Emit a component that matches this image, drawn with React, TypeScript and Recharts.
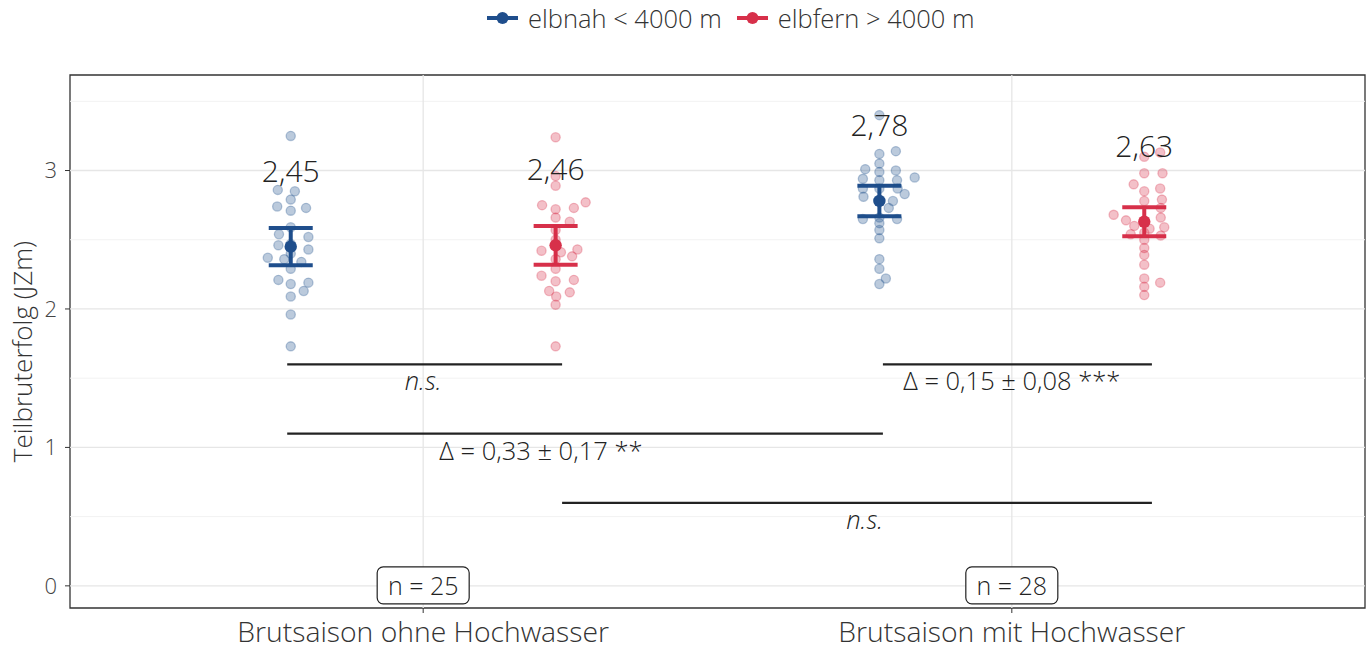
import {
  ComposedChart,
  Scatter,
  XAxis,
  YAxis,
  ReferenceLine,
  ReferenceArea,
  ReferenceDot,
  ErrorBar,
} from "recharts";

const seasons = ["Brutsaison ohne Hochwasser", "Brutsaison mit Hochwasser"];
const groups = ["elbnah < 4000 m", "elbfern > 4000 m"];
const sampleSizes = [25, 28];

// per-site values as [jitter, Teilbruterfolg]
const nahOhne = [
  [0, 3.25], [-0.022, 2.86], [0.007, 2.85], [0, 2.79], [-0.023, 2.74],
  [0, 2.71], [0.026, 2.73], [0, 2.59], [-0.02, 2.54], [0.03, 2.52],
  [-0.021, 2.46], [0.03, 2.43], [-0.039, 2.37], [-0.011, 2.36], [0.018, 2.34],
  [0, 2.29], [-0.021, 2.21], [0, 2.18], [0.03, 2.19], [0.022, 2.13],
  [0, 2.09], [0, 1.96], [0, 1.73], [0, 2.47], [0, 2.4],
];
const fernOhne = [
  [0, 3.24], [0, 2.96], [0, 2.89], [-0.023, 2.75], [0, 2.72],
  [0.031, 2.73], [0.051, 2.77], [0, 2.66], [0.024, 2.63], [0, 2.57],
  [-0.024, 2.42], [0.009, 2.41], [0.037, 2.43], [0.028, 2.38], [0, 2.36],
  [0, 2.29], [-0.024, 2.24], [0, 2.2], [0.031, 2.21], [-0.011, 2.13],
  [0.024, 2.12], [0.001, 2.09], [0, 2.03], [0, 1.73], [0, 2.5],
];
const nahMit = [
  [0, 3.4], [0, 3.12], [0.028, 3.14], [0, 3.05], [-0.024, 3.01],
  [0, 2.99], [0.028, 3.0], [-0.028, 2.94], [0, 2.93], [0.03, 2.93],
  [0.06, 2.95], [-0.028, 2.87], [0, 2.87], [0.031, 2.87], [-0.027, 2.81],
  [0.043, 2.83], [0.023, 2.78], [0.016, 2.73], [-0.028, 2.65], [0, 2.66],
  [0.03, 2.65], [0, 2.62], [0, 2.57], [0, 2.51], [0, 2.36],
  [0, 2.29], [0.011, 2.22], [0, 2.18],
];
const fernMit = [
  [0, 3.1], [0.027, 3.13], [0, 2.98], [0.031, 2.98], [-0.018, 2.9],
  [0.027, 2.87], [0, 2.85], [0, 2.78], [0.03, 2.79], [0.028, 2.73],
  [-0.052, 2.68], [-0.031, 2.64], [0.028, 2.66], [-0.017, 2.6], [0.034, 2.59],
  [-0.023, 2.54], [0, 2.55], [0.028, 2.53], [0, 2.5], [0, 2.44],
  [0, 2.39], [0, 2.32], [0, 2.22], [0.027, 2.19], [0, 2.16],
  [0, 2.1], [0, 2.63], [0.009, 2.58],
];

// group means and standard errors: [ohne, mit]
const nahMeans = [2.45, 2.78];
const nahSe = [0.135, 0.11];
const fernMeans = [2.46, 2.63];
const fernSe = [0.14, 0.105];

// pairwise comparisons (bracket from/to on the x scale, bracket height)
const comparisons = [
  { from: 0.769, to: 1.236, y: 1.6, text: "n.s." },
  { from: 1.781, to: 2.238, y: 1.6, text: "Δ = 0,15 ± 0,08 ***" },
  { from: 0.769, to: 1.781, y: 1.1, text: "Δ = 0,33 ± 0,17 **" },
  { from: 1.236, to: 2.238, y: 0.6, text: "n.s." },
];
const bracketLabelX = [1, 2, 1.2, 1.75];

const BLUE = "#1f4e8c";
const RED = "#d7304a";
const FONT = "'Open Sans', sans-serif";
const WEIGHT = 300;
const DODGE = 0.225;

const toPoints = (rows: number[][], season: number, side: number) =>
  rows.map(([j, v]) => ({ x: season + 1 + side * DODGE + j, y: v }));

const toMeans = (means: number[], se: number[], side: number) =>
  means.map((m, i) => ({ x: i + 1 + side * DODGE, y: m, se: se[i] }));

const pointShape = (color: string) => (p: any) => (
  <circle
    cx={p.cx}
    cy={p.cy}
    r={4.6}
    fill={color}
    fillOpacity={0.3}
    stroke={color}
    strokeOpacity={0.3}
    strokeWidth={1.3}
  />
);

const meanShape = (color: string) => (p: any) => (
  <g>
    <circle cx={p.cx} cy={p.cy} r={6.2} fill={color} />
    <text
      x={p.cx}
      y={p.cy - 65}
      textAnchor="middle"
      fontSize={30}
      fontWeight={WEIGHT}
      fill="#222"
      fontFamily={FONT}
    >
      {p.payload.y.toFixed(2).replace(".", ",")}
    </text>
  </g>
);

function LegendBar() {
  const item = (color: string, label: string) => (
    <div style={{ display: "flex", alignItems: "center", marginRight: 15 }}>
      <svg width={32} height={14} style={{ marginRight: 9 }}>
        <line x1={0} y1={7} x2={31} y2={7} stroke={color} strokeWidth={4} />
        <circle cx={15.5} cy={7} r={6} fill={color} />
      </svg>
      <span>{label}</span>
    </div>
  );
  return (
    <div
      style={{
        position: "absolute",
        left: 487,
        top: 1,
        display: "flex",
        fontFamily: FONT,
        fontWeight: WEIGHT,
        fontSize: 25.5,
        color: "#333",
        whiteSpace: "nowrap",
      }}
    >
      {item(BLUE, groups[0])}
      {item(RED, groups[1])}
    </div>
  );
}

export default function App() {
  const majorY = [0, 1, 2, 3];
  const minorY = [0.5, 1.5, 2.5, 3.5];

  return (
    <div
      style={{
        position: "absolute",
        left: 0,
        top: 0,
        width: 1370,
        height: 650,
        background: "#fff",
        fontFamily: FONT,
      }}
    >
      <LegendBar />
      <ComposedChart
        width={1370}
        height={650}
        margin={{ top: 75, right: 5, bottom: 0, left: 0 }}
      >
        <XAxis
          type="number"
          dataKey="x"
          domain={[0.4, 2.6]}
          ticks={[1, 2]}
          allowDataOverflow
          height={42}
          axisLine={false}
          tickSize={5}
          tickMargin={9}
          tickLine={{ stroke: "#333" }}
          tick={{ fontSize: 28.3, fill: "#333", fontFamily: FONT, fontWeight: WEIGHT }}
          tickFormatter={(v: number) => seasons[v - 1]}
        />
        <YAxis
          type="number"
          dataKey="y"
          domain={[-0.16, 3.69]}
          ticks={majorY}
          allowDataOverflow
          width={70}
          axisLine={false}
          tickSize={5}
          tickMargin={8}
          tickLine={{ stroke: "#333" }}
          tick={{ fontSize: 22, fill: "#444", fontFamily: FONT, fontWeight: WEIGHT }}
          label={(props: any) => {
            const vb = props.viewBox;
            const cy = vb.y + vb.height / 2 + 10;
            return (
              <text
                transform={`translate(32, ${cy}) rotate(-90)`}
                textAnchor="middle"
                fontSize={26}
                fontWeight={WEIGHT}
                fill="#333"
                fontFamily={FONT}
              >
                Teilbruterfolg (JZm)
              </text>
            );
          }}
        />

        {minorY.map((v) => (
          <ReferenceLine key={`mn${v}`} y={v} stroke="#f2f2f2" strokeWidth={1} />
        ))}
        {majorY.map((v) => (
          <ReferenceLine key={`mj${v}`} y={v} stroke="#e6e6e6" strokeWidth={1.3} />
        ))}
        {[1, 2].map((v) => (
          <ReferenceLine key={`vx${v}`} x={v} stroke="#e6e6e6" strokeWidth={1.3} />
        ))}

        <Scatter data={toPoints(nahOhne, 0, -1)} dataKey="y" shape={pointShape(BLUE)} isAnimationActive={false} />
        <Scatter data={toPoints(nahMit, 1, -1)} dataKey="y" shape={pointShape(BLUE)} isAnimationActive={false} />
        <Scatter data={toPoints(fernOhne, 0, 1)} dataKey="y" shape={pointShape(RED)} isAnimationActive={false} />
        <Scatter data={toPoints(fernMit, 1, 1)} dataKey="y" shape={pointShape(RED)} isAnimationActive={false} />

        <Scatter
          data={toMeans(nahMeans, nahSe, -1)}
          dataKey="y"
          shape={meanShape(BLUE)}
          isAnimationActive={false}
        >
          <ErrorBar dataKey="se" direction="y" width={22} stroke={BLUE} strokeWidth={4} isAnimationActive={false} />
        </Scatter>
        <Scatter
          data={toMeans(fernMeans, fernSe, 1)}
          dataKey="y"
          shape={meanShape(RED)}
          isAnimationActive={false}
        >
          <ErrorBar dataKey="se" direction="y" width={22} stroke={RED} strokeWidth={4} isAnimationActive={false} />
        </Scatter>

        {comparisons.map((c, i) => (
          <ReferenceLine
            key={`br${i}`}
            segment={[
              { x: c.from, y: c.y },
              { x: c.to, y: c.y },
            ]}
            stroke="#222"
            strokeWidth={2.2}
          />
        ))}
        {comparisons.map((c, i) => (
          <ReferenceDot
            key={`bt${i}`}
            x={bracketLabelX[i]}
            y={c.y}
            r={0}
            shape={(p: any) => (
              <text
                x={p.cx}
                y={p.cy + 26}
                textAnchor="middle"
                fontSize={25.5}
                fontWeight={WEIGHT}
                fill="#222"
                fontFamily={FONT}
                fontStyle={c.text === "n.s." ? "italic" : "normal"}
              >
                {c.text}
              </text>
            )}
          />
        ))}

        {sampleSizes.map((n, i) => (
          <ReferenceDot
            key={`n${i}`}
            x={i + 1}
            y={0}
            r={0}
            shape={(p: any) => (
              <g>
                <rect
                  x={p.cx - 46}
                  y={p.cy - 19}
                  width={92}
                  height={37}
                  rx={6}
                  fill="#fff"
                  stroke="#222"
                  strokeWidth={1.2}
                />
                <text
                  x={p.cx}
                  y={p.cy + 9}
                  textAnchor="middle"
                  fontSize={25}
                  fontWeight={WEIGHT}
                  fill="#222"
                  fontFamily={FONT}
                >
                  {`n = ${n}`}
                </text>
              </g>
            )}
          />
        ))}

        <ReferenceArea
          x1={0.4}
          x2={2.6}
          y1={-0.16}
          y2={3.69}
          fill="none"
          stroke="#333"
          strokeWidth={1.3}
          ifOverflow="visible"
        />
      </ComposedChart>
    </div>
  );
}
